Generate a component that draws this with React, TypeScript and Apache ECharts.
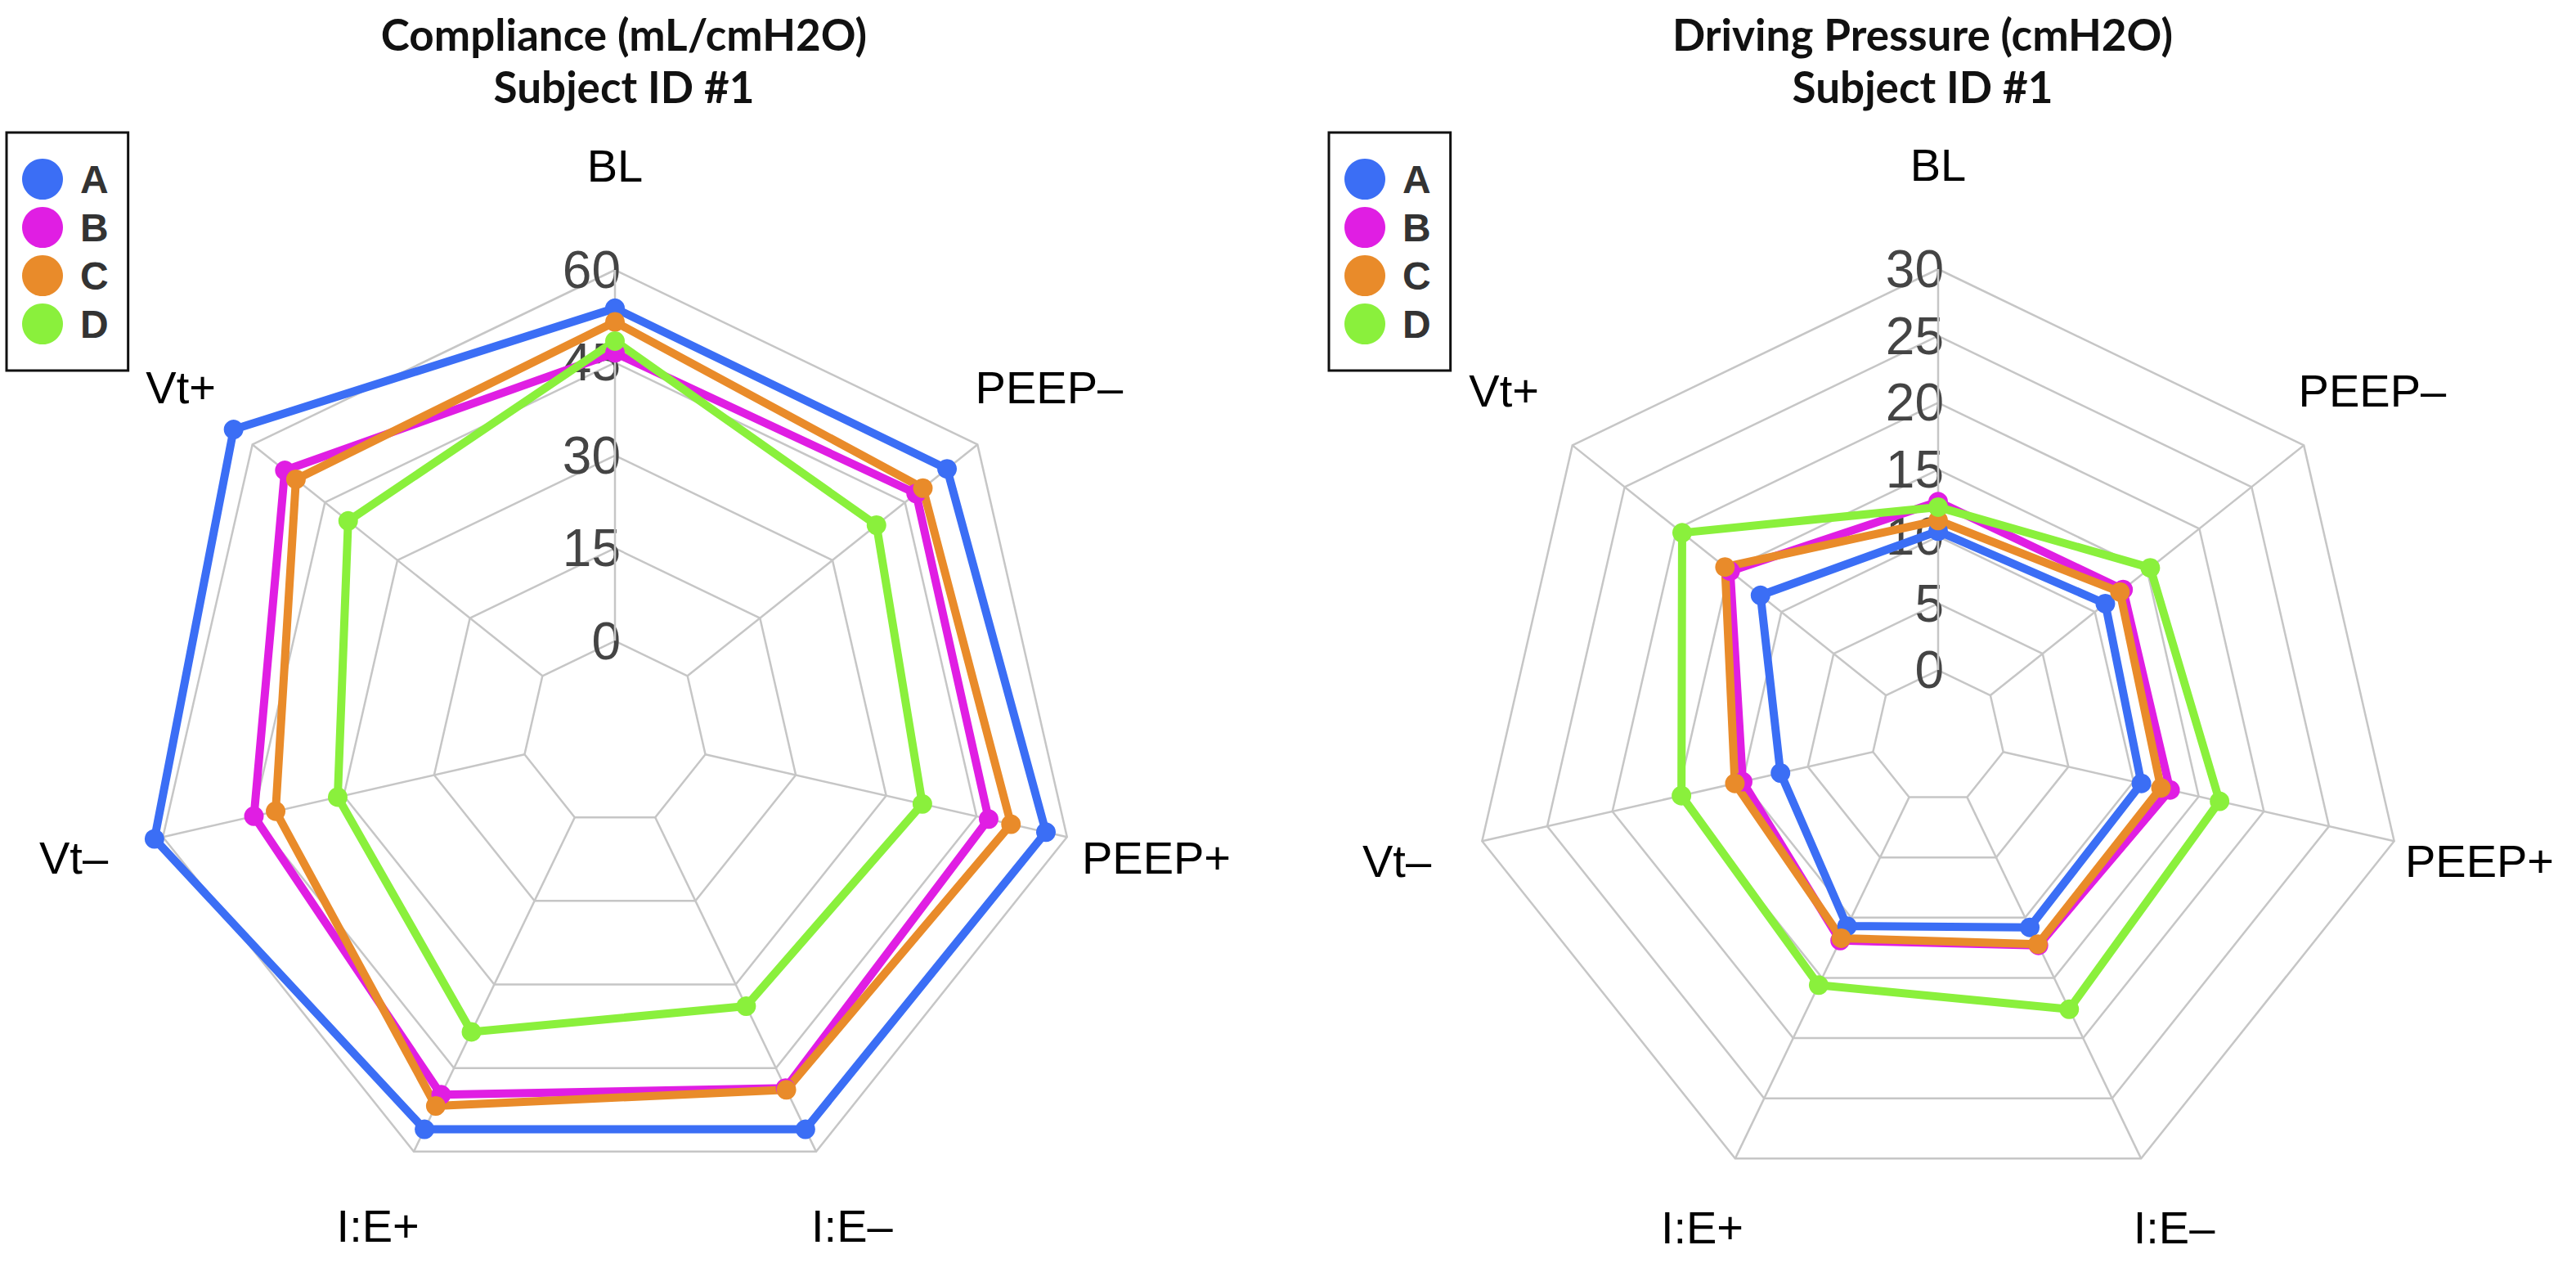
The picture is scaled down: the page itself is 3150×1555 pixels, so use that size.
import React, { useEffect, useRef } from 'react';
import * as echarts from 'echarts';

// Indicators, listed counter-clockwise from the top (ECharts radar order)
const indicators = ['BL', 'Vt+', 'Vt–', 'I:E+', 'I:E–', 'PEEP+', 'PEEP–'];
const groups = ['A', 'B', 'C', 'D'];
const groupColors = ['#3b6ef5', '#e01ee3', '#e98b2a', '#8af03c'];

// Compliance (mL/cmH2O), same order as indicators
const complianceA = [53.8, 63.9, 61.4, 56.0, 56.0, 56.5, 53.7];
const complianceB = [46.6, 53.3, 44.9, 49.8, 48.6, 47.0, 47.3];
const complianceC = [51.6, 51.0, 41.3, 51.8, 48.9, 50.7, 48.7];
const complianceD = [48.5, 40.2, 31.0, 38.5, 33.9, 36.0, 39.1];
const complianceTicks = [0, 15, 30, 45, 60];

// Driving pressure (cmH2O), same order as indicators
const pressureA = [10.4, 12.0, 7.1, 10.7, 10.8, 10.6, 11.0];
const pressureB = [12.6, 14.9, 10.0, 11.9, 12.3, 12.8, 12.7];
const pressureC = [11.2, 15.4, 10.6, 11.7, 12.2, 12.1, 12.4];
const pressureD = [12.2, 19.5, 14.7, 15.6, 17.6, 16.6, 15.3];
const pressureTicks = [0, 5, 10, 15, 20, 25, 30];

const panels = [
  {
    title: 'Compliance (mL/cmH2O)\nSubject ID #1',
    titleX: 763,
    legendX: 8,
    cx: 752,
    cy: 897,
    r: 567,
    // name gaps for [top, sides, bottom] labels
    gaps: [128, 112, 101],
    ticks: complianceTicks,
    values: [complianceA, complianceB, complianceC, complianceD],
  },
  {
    title: 'Driving Pressure (cmH2O)\nSubject ID #1',
    titleX: 2351,
    legendX: 1625,
    cx: 2370,
    cy: 901,
    r: 572,
    gaps: [128, 107, 93],
    ticks: pressureTicks,
    values: [pressureA, pressureB, pressureC, pressureD],
  },
];

const GRID = '#c6c6c6';

function gapFor(name: string, gaps: number[]) {
  if (name === 'BL') return gaps[0];
  if (name.startsWith('I:E')) return gaps[2];
  return gaps[1];
}

function buildOption() {
  const title: any[] = [];
  const legend: any[] = [];
  const radar: any[] = [];
  const polar: any[] = [];
  const angleAxis: any[] = [];
  const radiusAxis: any[] = [];
  const series: any[] = [];

  panels.forEach((p, i) => {
    const n = p.ticks.length;
    const step = p.ticks[1] - p.ticks[0];
    const tmin = p.ticks[0];
    const tmax = p.ticks[n - 1];

    title.push({
      text: p.title,
      left: p.titleX,
      top: 9,
      padding: 0,
      textAlign: 'center',
      textStyle: {
        fontFamily: 'Lato',
        fontWeight: 'bold',
        fontSize: 53,
        lineHeight: 64,
        color: '#111',
      },
    });

    legend.push({
      data: groups,
      left: p.legendX,
      top: 162,
      orient: 'vertical',
      icon: 'circle',
      itemWidth: 50,
      itemHeight: 50,
      itemGap: 9,
      padding: [32, 24, 32, 19],
      borderColor: '#111',
      borderWidth: 3,
      selectedMode: false,
      textStyle: {
        fontFamily: 'Liberation Sans',
        fontWeight: 'bold',
        fontSize: 48,
        color: '#333',
        padding: [0, 0, 0, 16],
      },
    });

    radar.push({
      center: [p.cx, p.cy],
      radius: p.r,
      startAngle: 90,
      shape: 'polygon',
      splitNumber: n,
      indicator: indicators.map((name) => ({
        name,
        min: tmin - step,
        max: tmax,
        nameGap: gapFor(name, p.gaps),
      })),
      axisName: {
        color: '#000',
        fontSize: 56,
        fontFamily: 'Liberation Sans',
        align: 'center',
        verticalAlign: 'middle',
      },
      axisNameGap: p.gaps[1],
      splitLine: { lineStyle: { color: GRID, width: 2.5 } },
      splitArea: { show: false },
      axisLine: { show: false },
      axisTick: { show: false },
      axisLabel: { show: false },
    });

    polar.push({ center: [p.cx, p.cy], radius: [p.r / n, p.r] });

    angleAxis.push({
      polarIndex: i,
      type: 'value',
      min: 0,
      max: 360,
      startAngle: 90,
      clockwise: false,
      show: false,
    });

    radiusAxis.push({
      polarIndex: i,
      type: 'value',
      min: tmin,
      max: tmax,
      interval: step,
      axisLine: { show: false },
      axisTick: { show: false },
      splitLine: { show: false },
      axisLabel: {
        fontSize: 64,
        color: '#444',
        fontFamily: 'Liberation Sans',
        margin: -7,
      },
    });

    // spokes from the zero ring to the outer ring
    indicators.forEach((_, k) => {
      const ang = (360 * k) / indicators.length;
      series.push({
        type: 'line',
        coordinateSystem: 'polar',
        polarIndex: i,
        data: [
          [tmin, ang],
          [tmax, ang],
        ],
        symbol: 'none',
        silent: true,
        z: 1,
        lineStyle: { color: GRID, width: 2.5 },
      });
    });

    groups.forEach((g, j) => {
      series.push({
        type: 'radar',
        radarIndex: i,
        name: g,
        symbol: 'circle',
        symbolSize: 24,
        lineStyle: { width: 10, color: groupColors[j] },
        itemStyle: { color: groupColors[j] },
        data: [{ name: g, value: p.values[j] }],
      });
    });
  });

  return {
    animation: false,
    backgroundColor: '#fff',
    title,
    legend,
    radar,
    polar,
    angleAxis,
    radiusAxis,
    series,
  };
}

export default function App() {
  const ref = useRef<HTMLDivElement | null>(null);
  useEffect(() => {
    document.body.style.margin = '0';
    if (!ref.current) return;
    const chart = echarts.init(ref.current, undefined, { renderer: 'svg' });
    chart.setOption(buildOption() as any);
    return () => chart.dispose();
  }, []);
  return (
    <div
      ref={ref}
      style={{ position: 'fixed', left: 0, top: 0, width: 3150, height: 1555, background: '#fff' }}
    />
  );
}
